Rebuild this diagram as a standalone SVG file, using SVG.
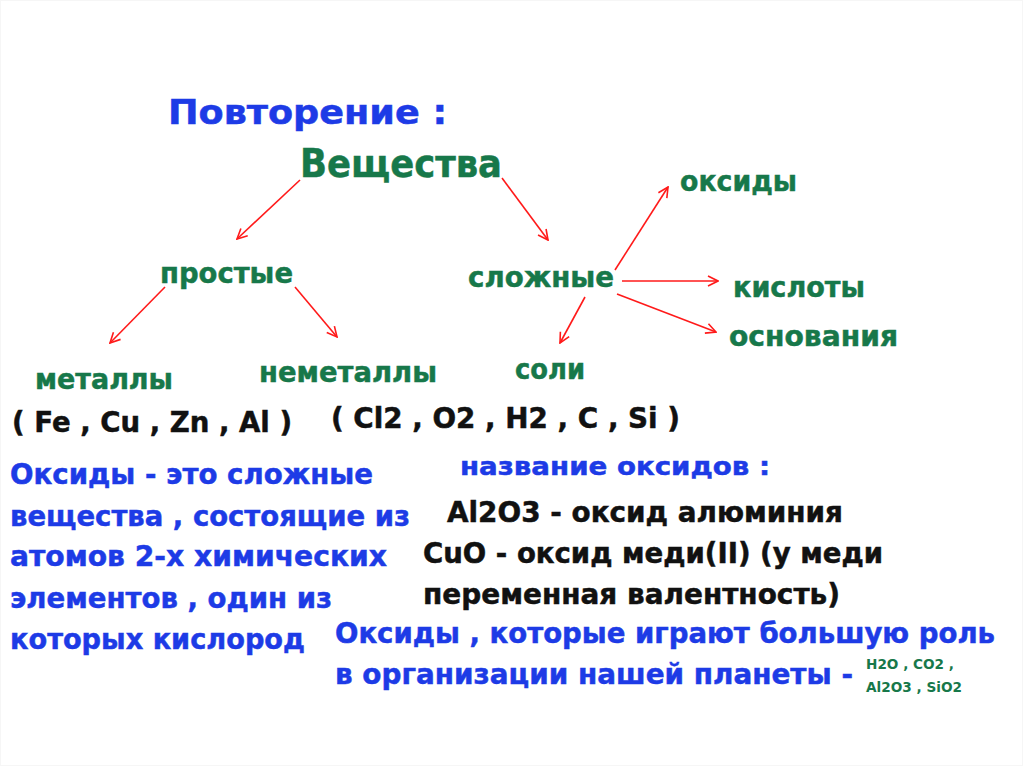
<svg xmlns="http://www.w3.org/2000/svg" width="1024" height="767" viewBox="0 0 1024 767">
<style>
  text { font-family: "DejaVu Sans", Verdana, sans-serif; font-weight: bold; stroke-width: 0.5px; }
  .g { fill: #17784a; stroke: #17784a; font-size: 28px; }
  .b { fill: #1d3be6; stroke: #1d3be6; font-size: 28px; }
  .k { fill: #111111; stroke: #111111; font-size: 28px; }
  .s { fill: #17784a; font-size: 14px; }
  .c { stroke: #ff1a1a; stroke-width: 1.6; fill: none; marker-end: url(#ah); }
</style>
<defs>
  <marker id="ah" viewBox="0 0 12 12" refX="11" refY="6" markerWidth="12" markerHeight="12" markerUnits="userSpaceOnUse" orient="auto">
    <path d="M1,1 L11,6 L1,11" fill="none" stroke="#ff1a1a" stroke-width="1.6"/>
  </marker>
</defs>
<rect x="0" y="0" width="1024" height="767" fill="#ffffff"/>
<rect x="0.5" y="0.5" width="1022" height="765" fill="none" stroke="#f6f6f6" stroke-width="1"/>

<g id="title"><text class="b" x="168" y="124" style="font-size:33px" textLength="279" lengthAdjust="spacingAndGlyphs">Повторение :</text></g>
<g id="veshchestva"><text class="g" x="300" y="177" style="font-size:39px" textLength="202" lengthAdjust="spacingAndGlyphs">Вещества</text></g>
<g id="prostye"><text class="g" x="160" y="283" textLength="133" lengthAdjust="spacingAndGlyphs">простые</text></g>
<g id="slozhnye"><text class="g" x="468" y="287" textLength="146" lengthAdjust="spacingAndGlyphs">сложные</text></g>
<g id="oksidy"><text class="g" x="680" y="191" textLength="117" lengthAdjust="spacingAndGlyphs">оксиды</text></g>
<g id="kisloty"><text class="g" x="733" y="297" textLength="132" lengthAdjust="spacingAndGlyphs">кислоты</text></g>
<g id="osnovaniya"><text class="g" x="729" y="346" textLength="169" lengthAdjust="spacingAndGlyphs">основания</text></g>
<g id="soli"><text class="g" x="515" y="379" textLength="70" lengthAdjust="spacingAndGlyphs">соли</text></g>
<g id="metally"><text class="g" x="35" y="389" textLength="138" lengthAdjust="spacingAndGlyphs">металлы</text></g>
<g id="nemetally"><text class="g" x="259" y="382" textLength="178" lengthAdjust="spacingAndGlyphs">неметаллы</text></g>
<g id="metals-list"><text class="k" x="12" y="432" textLength="280" lengthAdjust="spacingAndGlyphs">( Fe , Cu , Zn , Al )</text></g>
<g id="nonmetals-list"><text class="k" x="331" y="428" textLength="349" lengthAdjust="spacingAndGlyphs">( Cl2 , O2 , H2 , C , Si )</text></g>

<g id="definition">
  <text class="b" x="10" y="484" textLength="363" lengthAdjust="spacingAndGlyphs">Оксиды - это сложные</text>
  <text class="b" x="10" y="526" textLength="400" lengthAdjust="spacingAndGlyphs">вещества , состоящие из</text>
  <text class="b" x="10" y="566" textLength="377" lengthAdjust="spacingAndGlyphs">атомов 2-х химических</text>
  <text class="b" x="10" y="608" textLength="322" lengthAdjust="spacingAndGlyphs">элементов , один из</text>
  <text class="b" x="10" y="649" textLength="295" lengthAdjust="spacingAndGlyphs">которых кислород</text>
</g>

<g id="names">
  <text class="b" x="460" y="475" style="font-size:25px" textLength="310" lengthAdjust="spacingAndGlyphs">название оксидов :</text>
  <text class="k" x="447" y="522" textLength="396" lengthAdjust="spacingAndGlyphs">Al2O3 - оксид алюминия</text>
  <text class="k" x="423" y="563" textLength="460" lengthAdjust="spacingAndGlyphs">CuO - оксид меди(II) (у меди</text>
  <text class="k" x="423" y="604" textLength="417" lengthAdjust="spacingAndGlyphs">переменная валентность)</text>
</g>

<g id="planet">
  <text class="b" x="335" y="643" textLength="660" lengthAdjust="spacingAndGlyphs">Оксиды , которые играют большую роль</text>
  <text class="b" x="335" y="684" textLength="518" lengthAdjust="spacingAndGlyphs">в организации нашей планеты -</text>
  <text class="s" x="866" y="669" textLength="88" lengthAdjust="spacingAndGlyphs">H2O , CO2 ,</text>
  <text class="s" x="866" y="692" textLength="96" lengthAdjust="spacingAndGlyphs">Al2O3 , SiO2</text>
</g>

<g id="connectors">
  <line class="c" x1="300" y1="180" x2="237" y2="239"/>
  <line class="c" x1="502" y1="178" x2="548" y2="240"/>
  <line class="c" x1="165" y1="287" x2="110" y2="343"/>
  <line class="c" x1="295" y1="287" x2="337" y2="337"/>
  <line class="c" x1="615" y1="270" x2="668" y2="187"/>
  <line class="c" x1="622" y1="281" x2="718" y2="281"/>
  <line class="c" x1="617" y1="294" x2="716" y2="332"/>
  <line class="c" x1="585" y1="297" x2="560" y2="343"/>
</g>
</svg>
